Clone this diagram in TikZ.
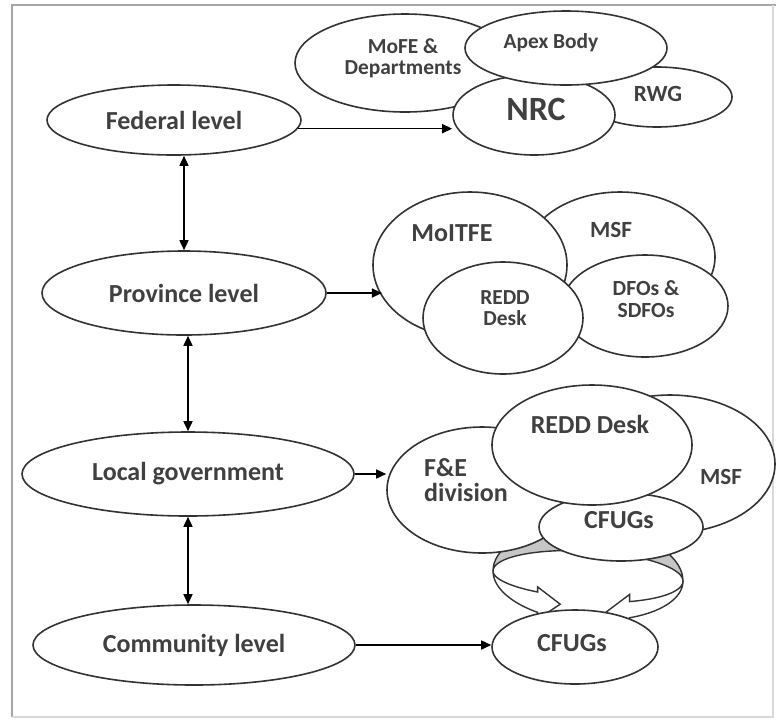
\documentclass[tikz,border=0pt]{standalone}
\usepackage{fontspec}
\setmainfont{Carlito}
\usetikzlibrary{shapes.geometric,arrows.meta}

\tikzset{
    blob/.style={ellipse, draw=black!80, line width=0.8pt, fill=white, inner sep=0pt},
    lvl/.style={blob, font=\bfseries\fontsize{13}{15}\selectfont, text=black!75},
    txt/.style={font=\bfseries\fontsize{10.7}{10.5}\selectfont, text=black!75, align=center, inner sep=0pt},
    txtm/.style={txt, font=\bfseries\fontsize{11.6}{12}\selectfont},
    txtb/.style={txt, font=\bfseries\fontsize{13}{12.5}\selectfont},
    link/.style={line width=0.8pt, -{Triangle[length=5pt,width=4.5pt]}},
    both/.style={line width=0.8pt, {Triangle[length=5pt,width=4.5pt]}-{Triangle[length=5pt,width=4.5pt]}},
}

\begin{document}
\begin{tikzpicture}[x=0.5pt, y=-0.5pt]
    \useasboundingbox (0,0) rectangle (776,719);
    % frame
    \draw[gray!70, line width=1pt] (12,717) -- (12,5) -- (776,5);
    \draw[gray!30, line width=0.8pt] (12,717) -- (773,717) -- (773,5);

    % levels
    \node[lvl, minimum width=127pt, minimum height=35pt] (fed) at (174,120) {Federal level};
    \node[lvl, minimum width=142pt, minimum height=42pt] (prov) at (184,293) {Province level};
    \node[lvl, minimum width=166pt, minimum height=42pt] (local) at (188,474) {Local government};
    \node[lvl, minimum width=161pt, minimum height=40pt] (comm) at (194,645) {Community level};

    % federal bodies
    \node[blob, minimum width=75pt, minimum height=30pt] (rwg) at (657,97) {};
    \node[blob, minimum width=110pt, minimum height=49pt] (mofe) at (405,63) {};
    \node[blob, minimum width=81pt, minimum height=40pt] (nrc) at (534,115) {};
    \node[blob, minimum width=101pt, minimum height=37pt] (apex) at (566,48) {};
    \node[txt] (t-mofe) at (403,58) {MoFE \&\\Departments};
    \node[txt] (t-apex) at (551,43) {Apex Body};
    \node[txt, font=\bfseries\fontsize{17}{17}\selectfont] (t-nrc) at (536,109) {NRC};
    \node[txtm] (t-rwg) at (658,94) {RWG};

    % province bodies
    \node[blob, minimum width=95pt, minimum height=65pt] (msf1) at (620,257) {};
    \node[blob, minimum width=97pt, minimum height=73pt] (moitfe) at (470,265) {};
    \node[blob, minimum width=83pt, minimum height=51pt] (dfo) at (645,306) {};
    \node[blob, minimum width=80pt, minimum height=56pt] (redd1) at (503,318) {};
    \node[txtb] (t-moitfe) at (452,233) {MoITFE};
    \node[txtm] (t-msf1) at (611,230) {MSF};
    \node[txt] (t-redd1) at (505,308) {REDD\\Desk};
    \node[txt, font=\bfseries\fontsize{10.8}{11}\selectfont] (t-dfo) at (646,299) {DFOs \&\\SDFOs};

    % ring between local and community CFUGs
    \draw[black!80, line width=0.7pt, fill=gray!45]
        plot[domain=180:360, samples=40] ({588+95*cos(\x)}, {576+50*sin(\x)+5*cos(\x)})
        -- plot[domain=360:180, samples=40] ({588+95*cos(\x)}, {576+25*sin(\x)+5*cos(\x)}) -- cycle;
    \draw[black!80, line width=0.7pt, fill=white]
        plot[domain=180:122, samples=25] ({588+95*cos(\x)}, {576+46*sin(\x)+5*cos(\x)})
        -- ({588+95*cos(122)}, {576+54*sin(122)+5*cos(122)})
        -- ({588+95*cos(107)}, {576+31*sin(107)+5*cos(107)})
        -- ({588+95*cos(122)}, {576+16*sin(122)+5*cos(122)})
        -- plot[domain=122:180, samples=25] ({588+95*cos(\x)}, {576+22*sin(\x)+5*cos(\x)}) -- cycle;
    \draw[black!80, line width=0.7pt, fill=white]
        plot[domain=0:64, samples=25] ({588+95*cos(\x)}, {576+44*sin(\x)+5*cos(\x)})
        -- ({588+95*cos(64)}, {576+52*sin(64)+5*cos(64)})
        -- ({588+95*cos(80)}, {576+37*sin(80)+5*cos(80)})
        -- ({588+95*cos(64)}, {576+18*sin(64)+5*cos(64)})
        -- plot[domain=64:0, samples=25] ({588+95*cos(\x)}, {576+26*sin(\x)+5*cos(\x)}) -- cycle;

    % local bodies
    \node[blob, minimum width=105pt, minimum height=69pt] (msf2) at (670,464) {};
    \node[blob, minimum width=95pt, minimum height=63pt] (fe) at (482,490) {};
    \node[blob, minimum width=82pt, minimum height=34pt] (cfug1) at (621,527) {};
    \node[blob, minimum width=100pt, minimum height=60pt] (redd2) at (592,445) {};
    \node[txtb] (t-redd2) at (590,424) {REDD Desk};
    \node[txtb, align=left] (t-fe) at (466,480) {F\&E\\division};
    \node[txtm] (t-msf2) at (721,477) {MSF};
    \node[txtb] (t-cfug1) at (619,520) {CFUGs};

    % community
    \node[blob, minimum width=83pt, minimum height=37pt] (cfug2) at (575,647) {};
    \node[txtb] (t-cfug2) at (572,643) {CFUGs};

    % connectors
    \draw[link] (fed.-4) -- (fed.-4 -| nrc.west);
    \draw[link] (prov.east) -- (prov.east -| moitfe.200);
    \draw[link] (local.east) -- (local.east -| fe.west);
    \draw[link] (comm.east) -- (comm.east -| cfug2.west);
    \draw[both] (fed.south -| prov.north) -- (prov.north);
    \draw[both] (prov.south -| local.north) -- (local.north);
    \draw[both] (local.south) -- (local.south |- comm.north);
\end{tikzpicture}
\end{document}
